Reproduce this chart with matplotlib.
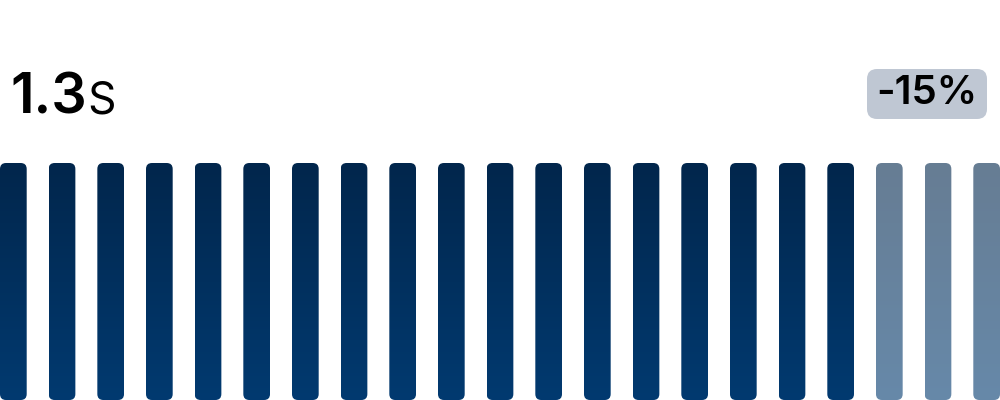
import numpy as np
import matplotlib.pyplot as plt
from matplotlib.patches import FancyBboxPatch
from matplotlib.colors import LinearSegmentedColormap

# data
values = [1.0] * 21
highlight = [True] * 18 + [False] * 3   # last three bars are faded
headline_value = "1.3"
headline_unit = "s"
delta_label = "-15%"

TOP_COLOR = "#01264c"
BOTTOM_COLOR = "#023a70"
BADGE_COLOR = "#bfc7d3"

plt.rcParams['font.family'] = ['Inter', 'DejaVu Sans']

fig = plt.figure(figsize=(10, 4), dpi=100)
fig.patch.set_facecolor("white")

# bars axes: spans full width, from bottom to pixel y=163
W, H = 1000, 400
bar_top_px = 163
ax = fig.add_axes([0, 0, 1, (H - bar_top_px) / H])
n = len(values)
width = 0.5486
ax.set_xlim(-width / 2, n - 1 + width / 2)
ax.set_ylim(0, max(values))
ax.axis("off")

px_per_x = W / (n - 1 + width)
px_per_y = (H - bar_top_px) / max(values)
aspect = px_per_x / px_per_y
radius = 6 / px_per_x

cmap = LinearSegmentedColormap.from_list("bar", [BOTTOM_COLOR, TOP_COLOR])
grad = np.linspace(0, 1, 256).reshape(-1, 1)

bars = ax.bar(np.arange(n), values, width=width, color="none", edgecolor="none")
for rect, hl in zip(bars, highlight):
    x0, y0 = rect.get_x(), rect.get_y()
    w, h = rect.get_width(), rect.get_height()
    patch = FancyBboxPatch((x0, y0), w, h,
                           boxstyle=f"round,pad=0,rounding_size={radius}",
                           mutation_aspect=aspect,
                           facecolor="none", edgecolor="none")
    ax.add_patch(patch)
    im = ax.imshow(grad, cmap=cmap, aspect="auto", origin="lower",
                   extent=(x0, x0 + w, y0, y0 + h),
                   alpha=1.0 if hl else 0.6, interpolation="bilinear")
    im.set_clip_path(patch)
ax.set_xlim(-width / 2, n - 1 + width / 2)
ax.set_ylim(0, max(values))

# headline text
t = fig.text(10 / W, 1 - 113 / H, headline_value, fontsize=40, fontweight="semibold",
             color="black", va="baseline", ha="left")
fig.canvas.draw()
bb = t.get_window_extent()
fig.text((bb.x1 + 1) / W, 1 - 113 / H, headline_unit.upper(), fontsize=32,
         fontweight="normal", color="black", va="baseline", ha="left")

# delta badge
badge = FancyBboxPatch((867 / W, 1 - 119 / H), 120 / W, 50 / H,
                       boxstyle="round,pad=0,rounding_size=0.01",
                       mutation_aspect=W / H,
                       transform=fig.transFigure, facecolor=BADGE_COLOR,
                       edgecolor="none")
fig.patches.append(badge)
fig.text(927 / W, 1 - 94 / H, delta_label, fontsize=29, fontweight="semibold",
         color="black", va="center", ha="center")

fig.savefig("out.png", dpi=100, facecolor="white")
